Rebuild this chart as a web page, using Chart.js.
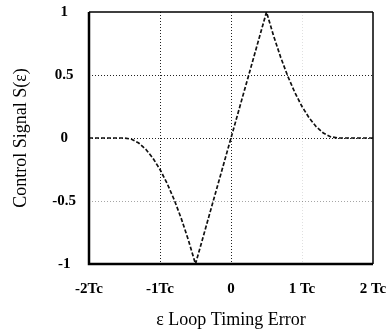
<!DOCTYPE html>
<html lang="en">
<head>
<meta charset="UTF-8">
<title>S-curve</title>
<script src="https://cdn.jsdelivr.net/npm/chart.js"></script>
<style>
    body {
        margin: 0;
        padding: 0;
        background: #fff;
    }
    #wrap {
        width: 388px;
        height: 335px;
    }
</style>
</head>
<body>
<div id="wrap">
    <canvas id="sCurve" width="388" height="335"></canvas>
</div>
<script>
// timing error in chips (Tc) and control signal
const errorTc = [-2, -1.5, -1.4, -1.3, -1.2, -1.1, -1.0, -0.9, -0.8, -0.7, -0.6, -0.5,
                 0.5, 0.6, 0.7, 0.8, 0.9, 1.0, 1.1, 1.2, 1.3, 1.4, 1.5, 2];
const controlSignal = [0, 0, -0.01, -0.04, -0.09, -0.16, -0.25, -0.36, -0.49, -0.64, -0.81, -1,
                       1, 0.81, 0.64, 0.49, 0.36, 0.25, 0.16, 0.09, 0.04, 0.01, 0, 0];
const xTickValues = [-2, -1, 0, 1, 2];
const xTickLabels = ['-2Tc', '-1Tc', '0', '1 Tc', '2 Tc'];
const yTickValues = [-1, -0.5, 0, 0.5, 1];
const yTickLabels = ['-1', '-0.5', '0', '0.5', '1'];

const points = errorTc.map((x, i) => ({ x: x, y: controlSignal[i] }));

// black frame round the plot area, heavier on left and bottom
const framePlugin = {
    id: 'frame',
    afterDraw(chart) {
        const a = chart.chartArea;
        const ctx = chart.ctx;
        ctx.save();
        ctx.strokeStyle = '#000';
        ctx.setLineDash([]);
        ctx.lineWidth = 1.5;
        ctx.beginPath();
        ctx.moveTo(a.left, a.top); ctx.lineTo(a.right, a.top);
        ctx.moveTo(a.right, a.top); ctx.lineTo(a.right, a.bottom);
        ctx.stroke();
        ctx.lineWidth = 2.5;
        ctx.beginPath();
        ctx.moveTo(a.left, a.top); ctx.lineTo(a.left, a.bottom);
        ctx.lineTo(a.right, a.bottom);
        ctx.stroke();
        ctx.restore();
    }
};

const serif = '"Liberation Serif", "Times New Roman", serif';

new Chart(document.getElementById('sCurve'), {
    type: 'scatter',
    data: {
        datasets: [{
            data: points,
            showLine: true,
            borderColor: '#111',
            borderWidth: 1.7,
            borderDash: [4, 2],
            pointRadius: 0,
            tension: 0
        }]
    },
    options: {
        responsive: false,
        animation: false,
        layout: { padding: { left: 0, right: 15, top: 12, bottom: 0 } },
        plugins: {
            legend: { display: false },
            tooltip: { enabled: false }
        },
        scales: {
            x: {
                type: 'linear',
                min: -2,
                max: 2,
                afterBuildTicks(scale) {
                    scale.ticks = xTickValues.map(v => ({ value: v }));
                },
                afterFit(scale) {
                    scale.height = 71;
                    scale.paddingLeft = 0;
                    scale.paddingRight = 0;
                },
                ticks: {
                    padding: 16,
                    color: '#000',
                    font: { family: serif, size: 15, weight: 'bold' },
                    callback: (v) => xTickLabels[xTickValues.indexOf(v)]
                },
                grid: {
                    drawTicks: false,
                    lineWidth: 1,
                    color: (c) => {
                        const v = c.tick && c.tick.value;
                        if (v === -1 || v === 0) return '#222';
                        if (v === 1) return 'rgba(0,0,0,0.12)';
                        return 'rgba(0,0,0,0)';
                    }
                },
                border: { display: false, dash: [1, 2] },
                title: {
                    display: true,
                    text: 'ε Loop Timing Error',
                    color: '#000',
                    font: { family: serif, size: 18 },
                    padding: { top: 0, bottom: 4 }
                }
            },
            y: {
                min: -1,
                max: 1,
                afterBuildTicks(scale) {
                    scale.ticks = yTickValues.map(v => ({ value: v }));
                },
                afterFit(scale) {
                    scale.width = 89;
                    scale.paddingTop = 0;
                    scale.paddingBottom = 0;
                },
                ticks: {
                    padding: 13,
                    crossAlign: 'center',
                    color: '#000',
                    font: { family: serif, size: 15, weight: 'bold' },
                    callback: (v) => yTickLabels[yTickValues.indexOf(v)]
                },
                grid: {
                    drawTicks: false,
                    lineWidth: 1,
                    color: (c) => {
                        const v = c.tick && c.tick.value;
                        if (v === 0.5 || v === 0) return '#222';
                        if (v === -0.5) return 'rgba(0,0,0,0.35)';
                        return 'rgba(0,0,0,0)';
                    }
                },
                border: { display: false, dash: [1, 2] },
                title: {
                    display: true,
                    text: 'Control Signal S(ε)',
                    color: '#000',
                    font: { family: serif, size: 18 },
                    padding: { top: 10, bottom: 8 }
                }
            }
        }
    },
    plugins: [framePlugin]
});
</script>
</body>
</html>
